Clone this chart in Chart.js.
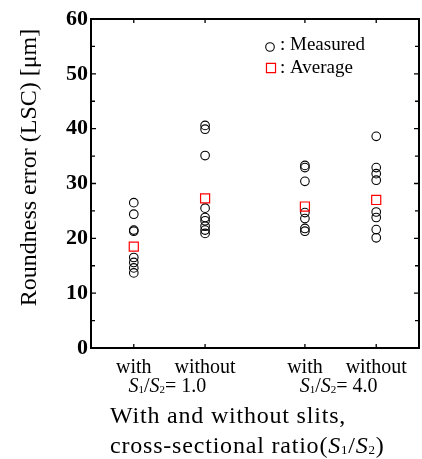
<!DOCTYPE html>
<html>
<head>
<meta charset="utf-8">
<script src="https://cdn.jsdelivr.net/npm/chart.js@4.4.1/dist/chart.umd.min.js"></script>
<style>
  html, body { margin: 0; padding: 0; background: #fff; }
  #wrap { width: 422px; height: 459px; }
</style>
</head>
<body>
<div id="wrap"><canvas id="chart"></canvas></div>
<script>
// positions of the four conditions on the x axis
const xPositions = [0.6, 1.6, 3.0, 4.0];
const slitLabels = ['with', 'without', 'with', 'without'];
const ratioLabels = ['1.0', '4.0'];

// measured roundness error [um]
const withRatio1 = [26.5, 24.4, 21.5, 21.3, 16.5, 15.6, 14.6, 13.7];
const withoutRatio1 = [40.6, 39.9, 35.1, 25.5, 23.8, 23.2, 22.2, 21.5, 20.9];
const withRatio4 = [33.3, 32.9, 30.4, 24.7, 23.6, 21.8, 21.3];
const withoutRatio4 = [38.6, 32.9, 31.8, 30.6, 24.8, 23.8, 21.6, 20.1];
const measured = [withRatio1, withoutRatio1, withRatio4, withoutRatio4];

// averages
const averages = [18.5, 27.3, 25.8, 27.0];

const SERIF = '"Liberation Serif", "Times New Roman", serif';

const measuredPoints = [];
measured.forEach((list, i) => {
  list.forEach(v => measuredPoints.push({ x: xPositions[i], y: v }));
});
const averagePoints = averages.map((v, i) => ({ x: xPositions[i], y: v }));

function drawMarker(ctx, style, radius, color, width, x, y) {
  ctx.save();
  ctx.strokeStyle = color;
  ctx.fillStyle = 'rgba(0,0,0,0)';
  ctx.lineWidth = width;
  if (Chart.helpers && Chart.helpers.drawPoint) {
    Chart.helpers.drawPoint(ctx, { pointStyle: style, radius: radius, borderWidth: width, rotation: 0 }, x, y);
  } else {
    ctx.beginPath();
    if (style === 'circle') ctx.arc(x, y, radius, 0, Math.PI * 2);
    else { const s = Math.SQRT1_2 * radius; ctx.rect(x - s, y - s, 2 * s, 2 * s); }
    ctx.stroke();
  }
  ctx.restore();
}

// text with italic S and small subscripts
function drawRich(ctx, parts, x, y, size, align, spacing) {
  const fontOf = p => p[1] === 'i' ? `italic ${size}px ${SERIF}`
    : p[1] === 'sub' ? `${Math.round(size * 0.55)}px ${SERIF}` : `${size}px ${SERIF}`;
  ctx.letterSpacing = (spacing || 0) + 'px';
  let total = 0;
  parts.forEach(p => { ctx.font = fontOf(p); total += ctx.measureText(p[0]).width; });
  let cx = align === 'center' ? x - total / 2 : x;
  ctx.textAlign = 'left';
  ctx.textBaseline = 'alphabetic';
  parts.forEach(p => {
    ctx.font = fontOf(p);
    ctx.fillText(p[0], cx, p[1] === 'sub' ? y + size * 0.05 : y);
    cx += ctx.measureText(p[0]).width;
  });
  ctx.letterSpacing = '0px';
}

const framePlugin = {
  id: 'frame',
  afterDraw(chart) {
    const ctx = chart.ctx;
    const area = chart.chartArea;
    const xs = chart.scales.x;
    const ys = chart.scales.y;
    ctx.save();
    ctx.strokeStyle = '#000';
    ctx.lineWidth = 2;
    ctx.strokeRect(area.left, area.top, area.right - area.left, area.bottom - area.top);

    ctx.lineWidth = 1.3;
    ctx.beginPath();
    for (let v = 0; v <= 60; v += 5) {
      const py = ys.getPixelForValue(v);
      const len = v % 10 === 0 ? 5 : 4;
      ctx.moveTo(area.left, py); ctx.lineTo(area.left + len, py);
      ctx.moveTo(area.right, py); ctx.lineTo(area.right - len, py);
    }
    xPositions.forEach(v => {
      const px = xs.getPixelForValue(v);
      ctx.moveTo(px, area.bottom); ctx.lineTo(px, area.bottom - 4);
      ctx.moveTo(px, area.top); ctx.lineTo(px, area.top + 4);
    });
    ctx.stroke();

    // legend
    ctx.fillStyle = '#000';
    ctx.font = `19px ${SERIF}`;
    ctx.textAlign = 'left';
    ctx.textBaseline = 'alphabetic';
    drawMarker(ctx, 'circle', 4.3, '#000', 1.1, area.left + 179, area.top + 28);
    ctx.fillText(': Measured', area.left + 189, area.top + 31);
    drawMarker(ctx, 'rect', 6.4, '#ff0000', 1.2, area.left + 180, area.top + 49);
    ctx.fillText(': Average', area.left + 189, area.top + 53.5);

    // y title
    ctx.save();
    ctx.translate(30, 167.5);
    ctx.rotate(-Math.PI / 2);
    ctx.font = `24px ${SERIF}`;
    ctx.textAlign = 'center';
    ctx.textBaseline = 'middle';
    ctx.fillText('Roundness error (LSC) [\u03bcm]', 0, 0);
    ctx.restore();

    // group labels under the tick labels
    ratioLabels.forEach((r, i) => {
      const mid = (xs.getPixelForValue(xPositions[2 * i]) + xs.getPixelForValue(xPositions[2 * i + 1])) / 2;
      drawRich(ctx, [['S', 'i'], ['1', 'sub'], ['/', ''], ['S', 'i'], ['2', 'sub'], ['= ' + r, '']],
        mid - 2, area.bottom + 43.5, 20, 'center');
    });

    // x title
    drawRich(ctx, [['With and without slits,', '']], area.left + 19, area.bottom + 74.5, 24, 'left', 0.8);
    drawRich(ctx, [['cross-sectional ratio(', ''], ['S', 'i'], ['1', 'sub'], ['/', ''], ['S', 'i'], ['2', 'sub'], [')', '']],
      area.left + 19, area.bottom + 105, 24, 'left', 0.8);
    ctx.restore();
  }
};

new Chart(document.getElementById('chart'), {
  type: 'scatter',
  data: {
    datasets: [
      {
        label: 'Average',
        data: averagePoints,
        pointStyle: 'rect',
        pointRadius: 6.4,
        pointBorderColor: '#ff0000',
        pointBackgroundColor: 'rgba(0,0,0,0)',
        pointBorderWidth: 1.2
      },
      {
        label: 'Measured',
        data: measuredPoints,
        pointStyle: 'circle',
        pointRadius: 4.3,
        pointBorderColor: '#000',
        pointBackgroundColor: 'rgba(0,0,0,0)',
        pointBorderWidth: 1.1
      }
    ]
  },
  options: {
    responsive: true,
    maintainAspectRatio: false,
    animation: false,
    devicePixelRatio: 1,
    layout: { autoPadding: false, padding: { top: 19, right: 3, left: 0, bottom: 0 } },
    plugins: {
      legend: { display: false },
      tooltip: { enabled: false }
    },
    scales: {
      x: {
        type: 'linear',
        min: 0,
        max: 4.6,
        afterBuildTicks: s => { s.ticks = xPositions.map(v => ({ value: v })); },
        afterFit: s => { s.height = 111; },
        grid: { display: false, drawTicks: false },
        border: { display: false },
        ticks: {
          autoSkip: false,
          maxRotation: 0,
          padding: 8,
          color: '#000',
          font: { family: SERIF, size: 20 },
          callback: (v, i) => slitLabels[i]
        }
      },
      y: {
        min: 0,
        max: 60,
        afterFit: s => { s.width = 91; },
        grid: { display: false, drawTicks: false },
        border: { display: false },
        ticks: {
          stepSize: 10,
          padding: 3,
          color: '#000',
          font: { family: SERIF, size: 22, weight: 'bold' }
        }
      }
    }
  },
  plugins: [framePlugin]
});
</script>
</body>
</html>
